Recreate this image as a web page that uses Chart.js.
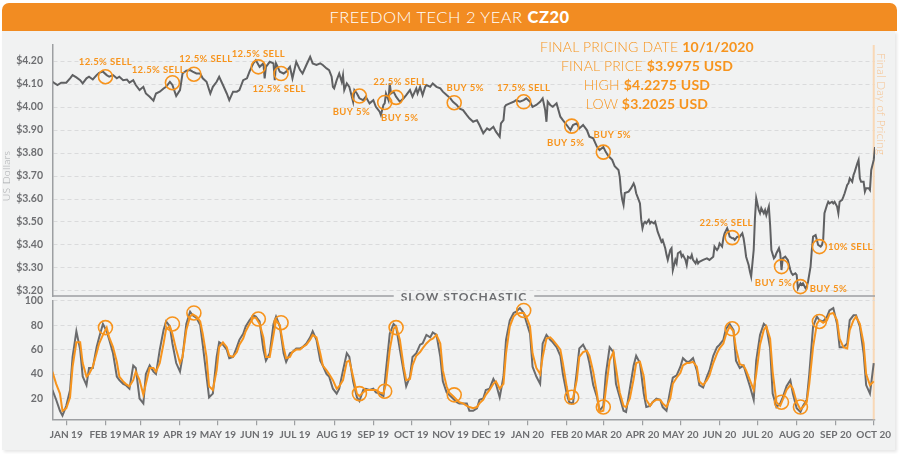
<!DOCTYPE html>
<html>
<head>
<meta charset="utf-8">
<title>Freedom Tech 2 Year CZ20</title>
<script src="https://cdn.jsdelivr.net/npm/chart.js@4.4.1/dist/chart.umd.min.js"></script>
<style>
  body { margin: 0; width: 900px; height: 454px; overflow: hidden; background: #fff; font-family: Lato, 'Open Sans', sans-serif; }
  #header { position: absolute; left: 2px; top: 3px; width: 895px; height: 28px; background: #f28c22; border-radius: 7px 7px 0 0;
            color: #fff; font-size: 16.5px; font-weight: 300; text-align: center; line-height: 29px; letter-spacing: 0.5px; }
  #header b { font-weight: 900; }
  #panel { position: absolute; left: 2px; top: 31px; width: 893px; height: 419px; background: #f1f2f2; box-shadow: 2px 2px 3px rgba(0,0,0,0.10); }
  canvas { position: absolute; left: 0; top: 0; }
  #info { position: absolute; left: 537px; top: 37px; width: 220px; text-align: center; color: #f7941d;
          font-size: 14px; font-weight: 300; line-height: 19px; letter-spacing: 0.2px; }
  #info b { font-weight: 700; }
</style>
</head>
<body>
<div id="header">FREEDOM TECH 2 YEAR <b>CZ20</b></div>
<div id="panel"></div>
<canvas id="priceChart" width="900" height="454"></canvas>
<canvas id="stochChart" width="900" height="454"></canvas>
<div id="info"></div>
<script>
'use strict';

// days counted from 1 Jan 2019
const monthDays = [0, 31, 59, 90, 120, 151, 181, 212, 243, 273, 304, 334, 365, 396, 425, 456, 486, 517, 547, 578, 609, 639];
const monthLabels = ['JAN 19', 'FEB 19', 'MAR 19', 'APR 19', 'MAY 19', 'JUN 19', 'JUL 19', 'AUG 19', 'SEP 19', 'OCT 19', 'NOV 19', 'DEC 19',
                     'JAN 20', 'FEB 20', 'MAR 20', 'APR 20', 'MAY 20', 'JUN 20', 'JUL 20', 'AUG 20', 'SEP 20', 'OCT 20'];
const priceTicks = [3.2, 3.3, 3.4, 3.5, 3.6, 3.7, 3.8, 3.9, 4.0, 4.1, 4.2];
const stochTicks = [20, 40, 60, 80, 100];
const finalDay = 639;

const infoLabels = ['FINAL PRICING DATE', 'FINAL PRICE', 'HIGH', 'LOW'];
const infoValues = ['10/1/2020', '$3.9975 USD', '$4.2275 USD', '$3.2025 USD'];

const priceDay = [
  -11, -7, -4, 0, 3, 5, 8, 11, 13, 16,
  18, 21, 24, 26, 29, 32, 34, 37, 40, 42,
  45, 48, 50, 53, 55, 58, 61, 63, 66, 69,
  71, 74, 77, 79, 82, 84, 87, 90, 92, 95,
  98, 100, 103, 106, 108, 111, 114, 116, 119, 121,
  124, 127, 129, 132, 135, 137, 140, 143, 145, 148,
  150, 153, 156, 157, 158, 161, 164, 165, 166, 169,
  172, 174, 177, 179, 182, 185, 187, 190, 193, 195,
  198, 201, 203, 206, 208, 210, 211, 212, 214, 216,
  218, 219, 220, 222, 224, 227, 228, 230, 232, 235,
  237, 240, 243, 245, 248, 249, 251, 252, 253, 255,
  256, 257, 259, 261, 264, 267, 269, 272, 274, 277,
  278, 280, 282, 284, 285, 288, 290, 293, 296, 298,
  301, 304, 306, 309, 311, 314, 317, 319, 322, 325,
  327, 330, 333, 335, 338, 340, 343, 344, 346, 347,
  348, 351, 354, 356, 359, 362, 364, 367, 369, 372,
  375, 377, 379, 380, 381, 383, 385, 388, 391, 393,
  396, 399, 401, 404, 406, 409, 412, 414, 417, 420,
  422, 425, 427, 429, 432, 434, 437, 438, 439, 440,
  441, 442, 445, 447, 449, 450, 451, 453, 454, 455,
  456, 457, 458, 459, 461, 462, 463, 465, 466, 467,
  468, 470, 471, 472, 474, 475, 476, 478, 479, 480,
  482, 483, 484, 486, 487, 488, 490, 491, 492, 494,
  495, 496, 498, 499, 500, 501, 504, 507, 509, 512,
  513, 515, 516, 517, 519, 520, 521, 523, 524, 525,
  527, 528, 529, 531, 533, 535, 536, 537, 538, 540,
  541, 542, 544, 545, 546, 548, 549, 550, 552, 553,
  554, 556, 557, 558, 560, 561, 562, 564, 565, 566,
  567, 569, 570, 571, 573, 574, 575, 577, 578, 579,
  581, 582, 583, 585, 586, 587, 589, 590, 591, 593,
  594, 595, 597, 598, 599, 600, 602, 603, 604, 606,
  607, 608, 610, 611, 612, 614, 615, 616, 618, 619,
  620, 622, 623, 624, 626, 627, 628, 629, 631, 632,
  633, 635, 636, 637, 639, 640
];
const priceUsd = [
  4.110, 4.096, 4.106, 4.106, 4.125, 4.139, 4.129, 4.117, 4.103, 4.125,
  4.132, 4.120, 4.139, 4.149, 4.154, 4.139, 4.132, 4.139, 4.125, 4.132,
  4.117, 4.120, 4.106, 4.117, 4.096, 4.074, 4.088, 4.059, 4.045, 4.028,
  4.059, 4.067, 4.081, 4.088, 4.110, 4.096, 4.048, 4.074, 4.146, 4.158,
  4.161, 4.154, 4.146, 4.146, 4.125, 4.110, 4.059, 4.088, 4.110, 4.132,
  4.096, 4.059, 4.030, 4.067, 4.067, 4.074, 4.117, 4.125, 4.154, 4.190,
  4.204, 4.175, 4.190, 4.125, 4.175, 4.197, 4.190, 4.117, 4.190, 4.154,
  4.146, 4.154, 4.175, 4.125, 4.197, 4.161, 4.146, 4.183, 4.219, 4.190,
  4.183, 4.190, 4.183, 4.168, 4.161, 4.132, 4.088, 4.081, 4.117, 4.146,
  4.110, 4.139, 4.074, 4.103, 4.088, 4.023, 4.074, 4.059, 4.038, 4.030,
  4.045, 4.016, 4.030, 4.001, 3.980, 3.965, 4.009, 4.016, 4.059, 4.030,
  4.103, 4.059, 4.067, 4.045, 4.023, 4.038, 4.052, 4.074, 4.045, 4.081,
  4.059, 4.088, 4.052, 4.088, 4.096, 4.088, 4.103, 4.088, 4.081, 4.067,
  4.052, 4.038, 4.023, 4.009, 3.994, 3.987, 3.965, 3.951, 3.936, 3.943,
  3.922, 3.886, 3.907, 3.900, 3.914, 3.893, 3.871, 3.929, 3.943, 4.001,
  4.009, 4.016, 4.023, 4.030, 4.023, 4.030, 4.038, 4.023, 4.001, 4.009,
  4.023, 4.038, 3.987, 3.936, 4.023, 4.009, 4.001, 4.016, 3.958, 3.943,
  3.922, 3.900, 3.922, 3.929, 3.907, 3.922, 3.900, 3.871, 3.864, 3.827,
  3.813, 3.826, 3.804, 3.787, 3.770, 3.743, 3.726, 3.696, 3.632, 3.596,
  3.574, 3.626, 3.632, 3.647, 3.668, 3.653, 3.625, 3.596, 3.581, 3.509,
  3.473, 3.494, 3.501, 3.494, 3.509, 3.494, 3.501, 3.494, 3.501, 3.480,
  3.458, 3.429, 3.414, 3.422, 3.386, 3.357, 3.335, 3.378, 3.386, 3.291,
  3.335, 3.320, 3.364, 3.371, 3.349, 3.357, 3.335, 3.313, 3.349, 3.342,
  3.357, 3.335, 3.320, 3.335, 3.320, 3.327, 3.335, 3.342, 3.335, 3.349,
  3.393, 3.378, 3.386, 3.407, 3.393, 3.429, 3.451, 3.473, 3.458, 3.436,
  3.429, 3.429, 3.422, 3.436, 3.436, 3.451, 3.429, 3.393, 3.349, 3.313,
  3.284, 3.262, 3.378, 3.516, 3.603, 3.552, 3.538, 3.560, 3.538, 3.552,
  3.530, 3.567, 3.487, 3.378, 3.342, 3.349, 3.364, 3.386, 3.364, 3.291,
  3.342, 3.349, 3.342, 3.335, 3.291, 3.277, 3.270, 3.277, 3.270, 3.212,
  3.233, 3.226, 3.233, 3.212, 3.219, 3.240, 3.306, 3.378, 3.436, 3.443,
  3.422, 3.400, 3.393, 3.400, 3.422, 3.538, 3.574, 3.588, 3.581, 3.588,
  3.581, 3.588, 3.567, 3.538, 3.588, 3.596, 3.610, 3.625, 3.661, 3.668,
  3.690, 3.675, 3.704, 3.719, 3.755, 3.770, 3.690, 3.675, 3.675, 3.632,
  3.647, 3.647, 3.639, 3.726, 3.770, 3.826
];

const stochDay = [
  -11, -8, -5, -3, 0, 3, 5, 8, 11, 13,
  16, 18, 21, 24, 26, 29, 32, 34, 37, 40,
  42, 45, 47, 50, 53, 55, 58, 61, 63, 66,
  69, 71, 74, 77, 79, 82, 84, 87, 90, 92,
  95, 98, 100, 103, 106, 108, 111, 113, 116, 119,
  121, 124, 127, 129, 132, 135, 137, 140, 142, 145,
  148, 150, 153, 156, 158, 161, 164, 166, 169, 172,
  174, 177, 179, 182, 185, 187, 190, 193, 195, 198,
  201, 203, 206, 208, 211, 214, 216, 219, 222, 224,
  227, 230, 232, 235, 237, 240, 243, 245, 248, 251,
  253, 256, 259, 261, 264, 267, 269, 272, 274, 277,
  280, 282, 285, 288, 290, 293, 296, 298, 301, 303,
  306, 309, 311, 314, 317, 319, 322, 325, 327, 330,
  332, 335, 338, 340, 343, 346, 348, 351, 354, 356,
  359, 362, 364, 367, 369, 372, 375, 377, 380, 383,
  385, 388, 391, 393, 396, 398, 401, 404, 406, 409,
  412, 414, 417, 420, 422, 425, 427, 430, 433, 435,
  438, 441, 443, 446, 449, 451, 454, 457, 459, 462,
  464, 467, 470, 472, 475, 478, 480, 483, 486, 488,
  491, 493, 496, 499, 501, 504, 507, 509, 512, 515,
  517, 520, 522, 525, 528, 530, 533, 536, 538, 541,
  544, 546, 549, 552, 554, 557, 559, 562, 565, 567,
  570, 573, 575, 578, 581, 583, 586, 588, 591, 594,
  596, 599, 602, 604, 607, 610, 612, 615, 618, 620,
  623, 625, 628, 631, 633, 636, 639
];
// %K (gray) and %D (orange)
const stochK = [
  27, 19, 10, 6, 14, 27, 54, 75, 60, 38,
  31, 45, 45, 62, 70, 81, 75, 68, 57, 38,
  35, 32, 31, 28, 47, 45, 20, 16, 40, 47,
  42, 40, 60, 76, 83, 79, 65, 49, 42, 54,
  81, 91, 88, 86, 80, 64, 38, 21, 24, 54,
  66, 64, 60, 53, 54, 62, 68, 73, 79, 84,
  88, 87, 83, 60, 51, 57, 81, 87, 79, 57,
  50, 57, 58, 61, 61, 62, 65, 70, 75, 68,
  51, 47, 40, 38, 28, 24, 28, 43, 57, 54,
  34, 21, 18, 27, 28, 27, 28, 25, 24, 22,
  43, 73, 81, 79, 60, 42, 30, 38, 54, 57,
  64, 65, 72, 70, 74, 72, 54, 34, 25, 23,
  20, 17, 16, 16, 16, 10, 10, 12, 19, 20,
  27, 28, 36, 32, 21, 38, 68, 84, 90, 91,
  94, 90, 83, 73, 46, 38, 32, 65, 72, 68,
  66, 62, 55, 40, 24, 17, 16, 42, 61, 64,
  58, 49, 31, 21, 10, 14, 40, 62, 58, 32,
  21, 10, 9, 28, 47, 55, 49, 24, 13, 14,
  17, 20, 19, 13, 10, 27, 37, 39, 46, 53,
  50, 50, 53, 43, 31, 29, 38, 43, 55, 62,
  64, 68, 77, 81, 76, 51, 45, 47, 40, 30,
  19, 51, 72, 81, 79, 61, 24, 13, 16, 21,
  30, 35, 24, 12, 9, 14, 19, 40, 79, 87,
  84, 83, 87, 92, 94, 81, 62, 62, 65, 84,
  88, 88, 79, 57, 31, 24, 49
];
const stochD = [
  42, 32, 24, 10, 12, 21, 46, 66, 66, 49,
  38, 40, 46, 57, 65, 72, 78, 70, 62, 50,
  38, 34, 32, 30, 35, 42, 35, 23, 32, 45,
  45, 42, 49, 65, 77, 79, 73, 60, 49, 54,
  76, 87, 89, 87, 83, 73, 54, 30, 27, 43,
  62, 66, 62, 55, 54, 58, 64, 69, 75, 81,
  86, 86, 81, 70, 54, 54, 72, 84, 80, 62,
  53, 54, 58, 60, 60, 62, 64, 68, 72, 70,
  57, 47, 43, 40, 35, 28, 30, 35, 50, 51,
  38, 24, 22, 25, 27, 27, 27, 27, 25, 24,
  32, 60, 77, 79, 68, 46, 35, 36, 47, 55,
  58, 61, 65, 68, 69, 72, 65, 43, 30, 25,
  22, 19, 17, 16, 14, 13, 12, 13, 16, 19,
  23, 27, 32, 34, 28, 32, 57, 79, 87, 89,
  90, 90, 87, 79, 57, 45, 40, 54, 69, 70,
  68, 64, 60, 49, 30, 19, 20, 35, 54, 58,
  59, 55, 42, 24, 9, 10, 27, 51, 58, 45,
  25, 14, 13, 20, 36, 49, 50, 38, 19, 14,
  17, 19, 19, 16, 13, 20, 32, 37, 41, 47,
  49, 49, 50, 46, 34, 31, 35, 39, 49, 57,
  61, 65, 72, 79, 75, 61, 48, 47, 43, 35,
  27, 40, 64, 76, 79, 69, 42, 17, 14, 19,
  27, 31, 28, 17, 11, 13, 17, 32, 62, 81,
  84, 82, 84, 89, 90, 84, 69, 62, 61, 76,
  84, 87, 81, 65, 40, 31, 34
];

// trade signals: circled on both panels
const signalDay = [31, 84, 101, 152, 170, 232, 252, 261, 307, 362, 400, 425, 527, 566, 581, 596];
const signalPrice = [4.132, 4.106, 4.143, 4.175, 4.146, 4.048, 4.020, 4.042, 4.019, 4.023, 3.917, 3.804, 3.432, 3.306, 3.219, 3.393];
const signalStoch = [78, 81, 90, 85, 82, 24, 26, 78, 23, 92, 21, 13, 77, 17, 13, 83];
const signalLabel = ['12.5% SELL', '12.5% SELL', '12.5% SELL', '12.5% SELL', '12.5% SELL', 'BUY 5%', 'BUY 5%', '22.5% SELL',
                     'BUY 5%', '17.5% SELL', 'BUY 5%', 'BUY 5%', '22.5% SELL', 'BUY 5%', 'BUY 5%', '10% SELL'];
// where each label sits relative to its circle (px)
const labelOffset = [[0, -15], [-14, -13], [12, -15], [0, -13], [-2, 15], [-8, 16], [15, 15], [4, -15],
                     [11, -15], [0, -14], [-6, 17], [9, -17], [-6, -15], [-8, 16], [28, 2], [31, 0]];

const ORANGE = '#f7941d';
const AXIS_GRAY = '#9d9fa2';
const TEXT_GRAY = '#6d6e71';

// info block top right
const info = document.getElementById('info');
infoLabels.forEach(function (label, i) {
    const line = document.createElement('div');
    line.innerHTML = label + ' <b>' + infoValues[i] + '</b>';
    info.appendChild(line);
});

function xAxis(show) {
    const axis = {
        type: 'linear',
        min: -10.5,
        max: 640,
        display: show,
        afterBuildTicks: function (scale) {
            scale.ticks = monthDays.map(v => ({ value: v }));
        },
        ticks: {
            autoSkip: false,
            maxRotation: 0,
            padding: 3,
            color: TEXT_GRAY,
            font: { family: 'Lato', weight: 'bold', size: 10 },
            callback: (v, i) => monthLabels[i]
        },
        grid: { drawOnChartArea: false, drawTicks: true, tickLength: 6, color: AXIS_GRAY, lineWidth: 1.2 },
        border: { display: true, color: AXIS_GRAY, width: 1.5 }
    };
    if (show) {
        axis.afterFit = function (scale) { scale.height = 34.7; };
    }
    return axis;
}

function yAxis(min, max, tickValues, fmt) {
    return {
        min: min,
        max: max,
        afterBuildTicks: function (scale) {
            scale.ticks = tickValues.map(v => ({ value: v }));
        },
        afterFit: function (scale) { scale.width = 53; },
        ticks: {
            padding: 10,
            color: TEXT_GRAY,
            font: { family: 'Lato', weight: 'bold', size: 10.5 },
            callback: fmt
        },
        grid: { drawTicks: false, color: '#dadbdc', lineWidth: 1 },
        border: { display: true, color: AXIS_GRAY, width: 1.5, dash: [4, 3] }
    };
}

// light orange marker for the last pricing day
const finalDayLine = {
    id: 'finalDayLine',
    beforeDatasetsDraw(chart, args, opts) {
        const { ctx, chartArea, scales } = chart;
        const px = scales.x.getPixelForValue(finalDay);
        ctx.save();
        ctx.strokeStyle = '#f9d8b6';
        ctx.lineWidth = 2;
        ctx.beginPath();
        ctx.moveTo(px, chartArea.top);
        ctx.lineTo(px, chartArea.bottom + (opts.extend || 0));
        ctx.stroke();
        ctx.restore();
    }
};

const priceDecor = {
    id: 'priceDecor',
    afterDraw(chart) {
        const { ctx, chartArea, scales } = chart;
        ctx.save();

        // signal labels
        ctx.font = 'bold 9.5px Lato';
        ctx.letterSpacing = '0.4px';
        ctx.fillStyle = ORANGE;
        ctx.textAlign = 'center';
        ctx.textBaseline = 'middle';
        signalLabel.forEach(function (t, i) {
            const px = scales.x.getPixelForValue(signalDay[i]) + labelOffset[i][0];
            const py = scales.y.getPixelForValue(signalPrice[i]) + labelOffset[i][1];
            ctx.fillText(t, px, py);
        });

        // separator with panel title
        const mid = (chartArea.left + chartArea.right) / 2;
        const yLine = chartArea.bottom;
        ctx.font = 'bold 12px Lato';
        ctx.letterSpacing = '1px';
        const half = ctx.measureText('SLOW STOCHASTIC').width / 2 + 7;
        ctx.strokeStyle = AXIS_GRAY;
        ctx.lineWidth = 1.5;
        ctx.beginPath();
        ctx.moveTo(chartArea.left, yLine);
        ctx.lineTo(mid - half, yLine);
        ctx.moveTo(mid + half, yLine);
        ctx.lineTo(chartArea.right, yLine);
        ctx.stroke();
        ctx.fillStyle = TEXT_GRAY;
        ctx.fillText('SLOW STOCHASTIC', mid, yLine + 1);

        // axis title
        ctx.letterSpacing = '0.3px';
        ctx.font = '300 10.5px Lato';
        ctx.fillStyle = '#a7a9ac';
        ctx.translate(7, 176);
        ctx.rotate(-Math.PI / 2);
        ctx.fillText('US Dollars', 0, 0);
        ctx.restore();

        // final day caption
        ctx.save();
        ctx.font = '300 11.5px Lato';
        ctx.letterSpacing = '0.3px';
        ctx.fillStyle = '#f6c390';
        ctx.textAlign = 'center';
        ctx.textBaseline = 'middle';
        ctx.translate(scales.x.getPixelForValue(finalDay) + 7, 104);
        ctx.rotate(Math.PI / 2);
        ctx.fillText('Final Day of Pricing', 0, 0);
        ctx.restore();
    }
};

function circles(values) {
    return {
        data: signalDay.map((d, i) => ({ x: d, y: values[i] })),
        showLine: false,
        pointRadius: 7,
        pointHoverRadius: 7,
        pointBorderWidth: 1.6,
        pointBorderColor: ORANGE,
        pointBackgroundColor: 'rgba(0,0,0,0)'
    };
}

new Chart(document.getElementById('priceChart'), {
    type: 'line',
    data: {
        datasets: [
            circles(signalPrice),
            {
                data: priceDay.map((d, i) => ({ x: d, y: priceUsd[i] })),
                borderColor: '#5f6062',
                borderWidth: 2,
                pointRadius: 0,
                tension: 0
            }
        ]
    },
    options: {
        responsive: false,
        animation: false,
        devicePixelRatio: 1,
        layout: { padding: { left: 0, right: 25, top: 45, bottom: 158 } },
        plugins: { legend: { display: false }, tooltip: { enabled: false }, finalDayLine: { extend: 5 } },
        scales: {
            x: xAxis(false),
            y: yAxis(3.178, 4.27, priceTicks, v => '$' + v.toFixed(2))
        }
    },
    plugins: [finalDayLine, priceDecor]
});

new Chart(document.getElementById('stochChart'), {
    type: 'line',
    data: {
        datasets: [
            circles(signalStoch),
            {
                data: stochDay.map((d, i) => ({ x: d, y: stochD[i] })),
                borderColor: ORANGE,
                borderWidth: 2,
                pointRadius: 0,
                tension: 0
            },
            {
                data: stochDay.map((d, i) => ({ x: d, y: stochK[i] })),
                borderColor: '#6a6b6d',
                borderWidth: 2,
                pointRadius: 0,
                tension: 0
            }
        ]
    },
    options: {
        responsive: false,
        animation: false,
        devicePixelRatio: 1,
        layout: { padding: { left: 0, right: 25, top: 300.7, bottom: 0 } },
        plugins: { legend: { display: false }, tooltip: { enabled: false }, finalDayLine: { extend: 0 } },
        scales: {
            x: xAxis(true),
            y: yAxis(3, 100, stochTicks, v => String(v))
        }
    },
    plugins: [finalDayLine]
});
</script>
</body>
</html>
